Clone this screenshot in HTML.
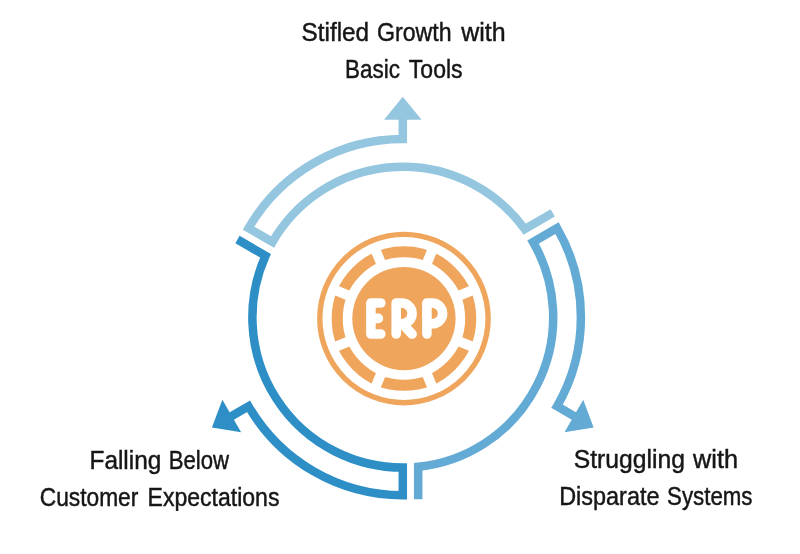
<!DOCTYPE html>
<html><head><meta charset="utf-8"><title>ERP</title>
<style>
html,body{margin:0;padding:0;background:#fff;}
body{width:800px;height:554px;overflow:hidden;}
svg{display:block;}
text{font-family:"Liberation Sans",sans-serif;font-size:25.5px;fill:#161616;stroke:#161616;stroke-width:0.45px;}
</style></head><body>
<svg width="800" height="554" viewBox="0 0 800 554">
<rect width="800" height="554" fill="#fff"/>
<g transform="rotate(0 402.8 317.2)"><path d="M418.20,499.20 L418.20,466.81 A150.4,150.4 0 0 0 533.05,242.00 L557.04,228.15 A178.1,178.1 0 0 1 557.04,406.25 L575.14,416.70" fill="none" stroke="#63abd4" stroke-width="8.5" stroke-linejoin="miter" stroke-miterlimit="10"/><path d="M564.47,432.19 L593.67,427.40 L583.22,399.71 Z" fill="#63abd4"/></g>
<g transform="rotate(120 402.8 317.2)"><path d="M418.20,499.20 L418.20,466.81 A150.4,150.4 0 0 0 533.05,242.00 L557.04,228.15 A178.1,178.1 0 0 1 557.04,406.25 L575.14,416.70" fill="none" stroke="#2d8fc5" stroke-width="8.5" stroke-linejoin="miter" stroke-miterlimit="10"/><path d="M564.47,432.19 L593.67,427.40 L583.22,399.71 Z" fill="#2d8fc5"/></g>
<g transform="rotate(240 402.8 317.2)"><path d="M418.20,499.20 L418.20,466.81 A150.4,150.4 0 0 0 533.05,242.00 L557.04,228.15 A178.1,178.1 0 0 1 557.04,406.25 L575.14,416.70" fill="none" stroke="#95c6e0" stroke-width="8.5" stroke-linejoin="miter" stroke-miterlimit="10"/><path d="M564.47,432.19 L593.67,427.40 L583.22,399.71 Z" fill="#95c6e0"/></g>
<circle cx="403.95" cy="318.55" r="84.15" fill="none" stroke="#efa55b" stroke-width="5.4"/>
<circle cx="403.95" cy="318.55" r="66.75" fill="none" stroke="#efa55b" stroke-width="11.1"/>
<line x1="458.64" y1="341.20" x2="472.59" y2="346.98" stroke="#fff" stroke-width="10"/>
<line x1="426.60" y1="373.24" x2="432.38" y2="387.19" stroke="#fff" stroke-width="10"/>
<line x1="381.30" y1="373.24" x2="375.52" y2="387.19" stroke="#fff" stroke-width="10"/>
<line x1="349.26" y1="341.20" x2="335.31" y2="346.98" stroke="#fff" stroke-width="10"/>
<line x1="349.26" y1="295.90" x2="335.31" y2="290.12" stroke="#fff" stroke-width="10"/>
<line x1="381.30" y1="263.86" x2="375.52" y2="249.91" stroke="#fff" stroke-width="10"/>
<line x1="426.60" y1="263.86" x2="432.38" y2="249.91" stroke="#fff" stroke-width="10"/>
<line x1="458.64" y1="295.90" x2="472.59" y2="290.12" stroke="#fff" stroke-width="10"/>
<circle cx="403.95" cy="318.55" r="51.65" fill="#efa55b"/>
<g fill="none" stroke="#fff" stroke-width="9.6" stroke-linecap="round" stroke-linejoin="round">
<path d="M380.8,303 H370.9 V334 H380.8 M370.9,318.4 H378.4"/>
<path d="M396.2,334 V303 H401.7 A10.4,10.4 0 0 1 401.7,323.8 H396.2 M402.3,323.8 L412.1,334.1"/>
<path d="M426.9,334 V303 H432.2 A10.4,10.4 0 0 1 432.2,323.8 H426.9"/>
</g>
<filter id="ga" filterUnits="userSpaceOnUse" x="0" y="0" width="800" height="554"><feOffset dx="0" dy="0"/></filter>
<g filter="url(#ga)">
<text><tspan x="301.55" y="40.6" textLength="67.51" lengthAdjust="spacingAndGlyphs">Stifled</tspan> <tspan x="377.04" y="40.6" textLength="74.47" lengthAdjust="spacingAndGlyphs">Growth</tspan> <tspan x="461.24" y="40.6" textLength="44.39" lengthAdjust="spacingAndGlyphs">with</tspan>
<tspan x="344.96" y="77.6" textLength="54.96" lengthAdjust="spacingAndGlyphs">Basic</tspan> <tspan x="408.87" y="77.6" textLength="53.73" lengthAdjust="spacingAndGlyphs">Tools</tspan></text>
<text><tspan x="89.53" y="468.5" textLength="71.79" lengthAdjust="spacingAndGlyphs">Falling</tspan> <tspan x="168.78" y="468.5" textLength="60.36" lengthAdjust="spacingAndGlyphs">Below</tspan>
<tspan x="39.71" y="505.5" textLength="98.64" lengthAdjust="spacingAndGlyphs">Customer</tspan> <tspan x="147.52" y="505.5" textLength="131.92" lengthAdjust="spacingAndGlyphs">Expectations</tspan></text>
<text><tspan x="573.73" y="468.4" textLength="111.15" lengthAdjust="spacingAndGlyphs">Struggling</tspan> <tspan x="693.05" y="468.4" textLength="44.90" lengthAdjust="spacingAndGlyphs">with</tspan>
<tspan x="559.19" y="505.3" textLength="100.33" lengthAdjust="spacingAndGlyphs">Disparate</tspan> <tspan x="667.03" y="505.3" textLength="85.51" lengthAdjust="spacingAndGlyphs">Systems</tspan></text>
</g>
</svg>
</body></html>
